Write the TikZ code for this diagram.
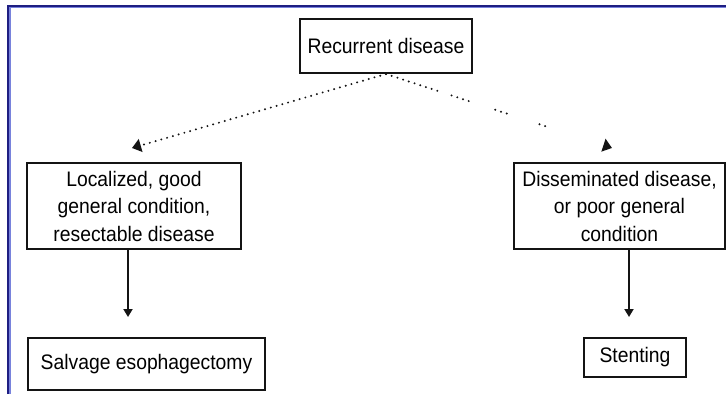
\documentclass[tikz,border=0pt]{standalone}
\usepackage{fontspec}
\setmainfont{Liberation Sans}[FakeStretch=0.92]
\usetikzlibrary{arrows.meta}
\definecolor{framenavy}{RGB}{30,30,130}
\definecolor{framelight}{RGB}{120,130,220}
\definecolor{boxline}{RGB}{20,20,20}
\tikzset{
  box/.style={draw=boxline, line width=2pt, rectangle, inner sep=0pt, align=center,
    font=\fontsize{21}{27.5}\selectfont},
  solidarrow/.style={line width=1.8pt, draw=boxline, -{Triangle[length=8pt,width=9pt]}},
  dotarrow/.style={line width=2.2pt, draw=boxline, line cap=round,
    -{Triangle[length=9pt,width=13pt]}},
}
\begin{document}
\begin{tikzpicture}[x=1pt,y=-1pt]
\useasboundingbox (0,0) rectangle (726,394);
% frame
\draw[framelight, line width=1.4pt] (10,394) -- (10,7.4) -- (726,7.4);
\draw[framenavy, line width=2pt] (8,394) -- (8,5.5) -- (726,5.5);
% nodes
\node[box, minimum width=172pt, minimum height=54pt] (rec) at (386,46) {Recurrent disease};
\node[box, minimum width=214pt, minimum height=86pt] (loc) at (134,206)
  {Localized, good\\general condition,\\resectable disease};
\node[box, minimum width=211pt, minimum height=86pt] (dis) at (619.5,206)
  {Disseminated disease,\\or poor general\\condition};
\node[box, minimum width=237pt, minimum height=52pt] (sal) at (146.5,364) {Salvage esophagectomy};
\node[box, minimum width=102pt, minimum height=39pt] (ste) at (635,357.5) {Stenting};
% free arrow ends
\coordinate (lt) at (132,148);
\coordinate (rt) at (612,148);
\coordinate (lv) at (128,317);
\coordinate (rv) at (629,317);
% dotted arrows
\draw[dotarrow, dash pattern=on 0pt off 6pt] (rec.south) -- (lt);
\draw[dotarrow, dash pattern=on 0pt off 6pt on 0pt off 6pt on 0pt off 6pt on 0pt off 6pt
  on 0pt off 6pt on 0pt off 6pt on 0pt off 6pt on 0pt off 6pt on 0pt off 6pt
  on 0pt off 15pt on 0pt off 6pt on 0pt off 6pt on 0pt off 6pt on 0pt off 28pt
  on 0pt off 6pt on 0pt off 6pt on 0pt off 34.5pt on 0pt off 6pt on 0pt off 200pt]
  (rec.south) -- (rt);
% solid arrows
\draw[solidarrow] (loc.south -| lv) -- (lv);
\draw[solidarrow] (dis.south -| rv) -- (rv);
\end{tikzpicture}
\end{document}
